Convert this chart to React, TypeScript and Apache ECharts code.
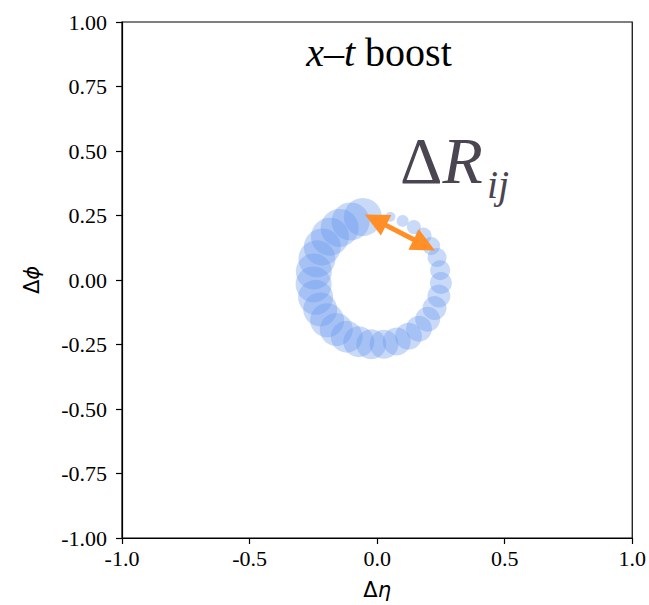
import React, { useEffect, useRef } from "react";
import * as echarts from "echarts";

// Bubble positions (Δη, Δφ) and marker diameters (px)
const etaValues = [
  0.052, 0.1, 0.144, 0.182, 0.212, 0.235, 0.247, 0.25, 0.242, 0.225,
  0.198, 0.164, 0.123, 0.077, 0.027, -0.023, -0.072, -0.119, -0.16, -0.196,
  -0.223, -0.241, -0.249, -0.248, -0.236, -0.215, -0.185, -0.147, -0.104, -0.056,
];
const phiValues = [
  0.245, 0.229, 0.205, 0.172, 0.132, 0.087, 0.038, -0.012, -0.062, -0.109,
  -0.152, -0.189, -0.218, -0.238, -0.249, -0.249, -0.239, -0.22, -0.192, -0.156,
  -0.114, -0.067, -0.017, 0.033, 0.082, 0.128, 0.168, 0.202, 0.227, 0.244,
];
const markerSize = [
  10, 12, 14, 16, 18, 19, 20, 22, 23, 24,
  25, 26, 27, 28, 29, 30, 31, 32, 33, 34,
  34, 35, 36, 36, 37, 37, 38, 38, 38, 38,
];
// Double arrow endpoints (Δη, Δφ)
const arrowEta = [-0.0065, 0.185];
const arrowPhi = [0.233, 0.136];

const xTicks = [-1, -0.5, 0, 0.5, 1];
const yTicks = [-1, -0.75, -0.5, -0.25, 0, 0.25, 0.5, 0.75, 1];

const SERIF = "'Liberation Serif', 'Times New Roman', serif";
const SANS = "'DejaVu Sans', sans-serif";

export default function App() {
  const ref = useRef<HTMLDivElement>(null);
  useEffect(() => {
    if (!ref.current) return;
    const chart = echarts.init(ref.current, undefined, { renderer: "svg" });
    const points = etaValues.map((e, i) => [e, phiValues[i], markerSize[i]]);
    chart.setOption({
      animation: false,
      backgroundColor: "#ffffff",
      grid: {
        left: 122,
        right: 12,
        top: 22,
        bottom: 67,
        show: true,
        borderColor: "#000",
        borderWidth: 1.2,
        backgroundColor: "transparent",
      },
      xAxis: {
        type: "value",
        min: xTicks[0],
        max: xTicks[xTicks.length - 1],
        interval: 0.5,
        name: "{d|Δ}{e|η}",
        nameLocation: "middle",
        nameGap: 41,
        nameTextStyle: {
          rich: {
            d: { fontFamily: SANS, fontSize: 21, color: "#000" },
            e: { fontFamily: SANS, fontSize: 21, fontStyle: "italic", color: "#000" },
          },
        },
        splitLine: { show: false },
        axisLine: { onZero: false, lineStyle: { color: "#000", width: 1.2 } },
        axisTick: { show: true, length: 6, lineStyle: { color: "#000", width: 1.2 } },
        axisLabel: {
          color: "#000",
          fontFamily: SERIF,
          fontSize: 22,
          margin: 9,
          formatter: (v: number) => v.toFixed(1),
        },
      },
      yAxis: {
        type: "value",
        min: yTicks[0],
        max: yTicks[yTicks.length - 1],
        interval: 0.25,
        name: "{d|Δ}{e|ϕ}",
        nameLocation: "middle",
        nameGap: 80,
        nameRotate: 90,
        nameTextStyle: {
          rich: {
            d: { fontFamily: SANS, fontSize: 21, color: "#000" },
            e: { fontFamily: SANS, fontSize: 21, fontStyle: "italic", color: "#000" },
          },
        },
        splitLine: { show: false },
        axisLine: { onZero: false, lineStyle: { color: "#000", width: 1.2 } },
        axisTick: { show: true, length: 6, lineStyle: { color: "#000", width: 1.2 } },
        axisLabel: {
          color: "#000",
          fontFamily: SERIF,
          fontSize: 22,
          margin: 15,
          formatter: (v: number) => v.toFixed(2),
        },
      },
      series: [
        {
          type: "scatter",
          data: points,
          symbol: "circle",
          symbolSize: (d: number[]) => d[2],
          itemStyle: { color: "#6495ED", opacity: 0.35 },
          silent: true,
          z: 2,
          markLine: {
            silent: true,
            symbol: ["triangle", "triangle"],
            symbolSize: [23, 24],
            label: { show: false },
            lineStyle: { color: "#ff8f26", width: 5, type: "solid", opacity: 1 },
            itemStyle: { color: "#ff8f26" },
            data: [
              [
                { coord: [arrowEta[0], arrowPhi[0]] },
                { coord: [arrowEta[1], arrowPhi[1]] },
              ],
            ],
            z: 5,
          },
        },
      ],
      graphic: [
        {
          type: "text",
          x: 379,
          y: 52.5,
          style: {
            text: "{i|x}–{i|t} boost",
            align: "center",
            verticalAlign: "middle",
            fontFamily: SERIF,
            fontSize: 40,
            fill: "#000",
            rich: {
              i: { fontFamily: SERIF, fontSize: 40, fontStyle: "italic", fill: "#000" },
            },
          },
          z: 10,
        },
        {
          type: "text",
          x: 400,
          y: 160,
          style: {
            text: "Δ{r|R}",
            align: "left",
            verticalAlign: "middle",
            fontFamily: SERIF,
            fontSize: 66,
            fill: "#4a4550",
            rich: {
              r: { fontFamily: SERIF, fontSize: 66, fontStyle: "italic", fill: "#4a4550" },
            },
          },
          z: 10,
        },
        {
          type: "text",
          x: 487,
          y: 184,
          style: {
            text: "ij",
            align: "left",
            verticalAlign: "middle",
            fontFamily: SERIF,
            fontSize: 40,
            fontStyle: "italic",
            fill: "#4a4550",
          },
          z: 10,
        },
      ],
    });
    return () => chart.dispose();
  }, []);
  return (
    <div
      ref={ref}
      style={{ position: "fixed", left: 0, top: 0, width: 649, height: 605 }}
    />
  );
}
